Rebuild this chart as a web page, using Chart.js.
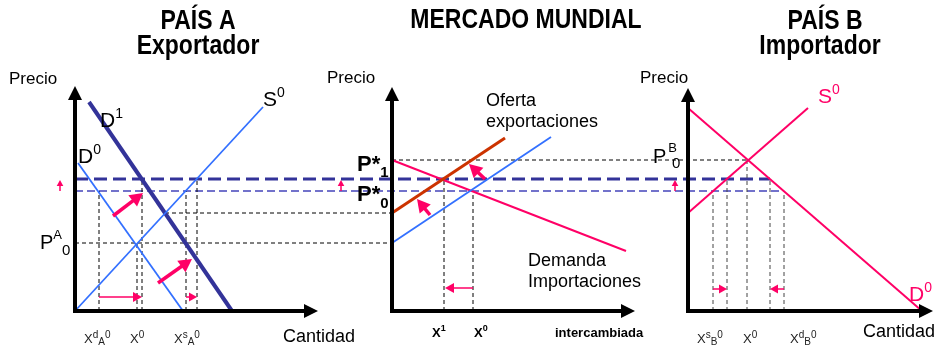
<!DOCTYPE html>
<html>
<head>
<meta charset="utf-8">
<script src="https://cdn.jsdelivr.net/npm/chart.js@4.4.0/dist/chart.umd.min.js"></script>
<style>
  html, body { margin: 0; padding: 0; background: #fff; }
  #wrap { width: 936px; height: 345px; position: relative; }
</style>
</head>
<body>
<div id="wrap"><canvas id="chart" width="936" height="345"></canvas></div>
<script>
// price levels, shared by the three panels
const P_A0 = 34;     // autarky price in A
const P_MID = 49;    // S0 / D1 crossing in A
const P_W0 = 60;     // world price before
const P_W1 = 66;     // world price after
const P_B0 = 75.5;   // autarky price in B

// País A (exportador)
const aSupply = [[0, 0], [94, 102]];
const aDemand0 = [[1.5, 74], [54, 0]];
const aDemand1 = [[7, 104.5], [78.5, 0]];
const aVertQ = [12, 31, 33.5, 55.5, 61];
const aVertP = [P_W0, P_A0, P_W1, P_W0, P_W1];

// Mercado mundial
const mSupply0 = [[0, P_A0], [79.5, 87]];
const mSupply1 = [[0, P_MID], [56.5, 86.5]];
const mDemand = [[0, P_B0], [117, 30]];
const mVertQ = [26, 40.5];
const mVertP = [P_W1, P_W0];

// País B (importador)
const bDemand = [[0, 101.5], [117, 0]];
const bSupply = [[0, P_MID], [60, 101.5]];
const bVertQ = [12.5, 19.5, 29.5, 41, 48];
const bVertP = [P_W0, P_W1, P_B0, P_W1, P_W0];

// layout of the three panels (px per unit, origin of each quantity axis)
const UNIT = 2;
const W = 936, H = 345;
const originX = { A: 75, M: 392, B: 688 };
const originY = 311;
const axisTop = { A: 112.5, M: 112, B: 111.5 };
const axisEnd = { A: 121.5, M: 121.5, B: 122.5 };

const BLUE = '#3370ff', NAVY = '#333399', PINK = '#ff0066', ORANGE = '#cc3300';
const FONT = '"Liberation Sans", Arial, sans-serif';

const toXY = pts => pts.map(p => ({ x: p[0], y: p[1] }));

function line(label, pts, axis, color, width) {
    return {
        label: label, data: toXY(pts), xAxisID: axis,
        showLine: true, borderColor: color, borderWidth: width,
        pointRadius: 0, fill: false, tension: 0
    };
}

// dashed guides: [panel, q, p] -> [panel, q, p]
const guides = [
    { from: ['A', 0, P_A0], to: ['M', 0, P_A0], kind: 'k' },
    { from: ['A', 45, P_MID], to: ['M', 0, P_MID], kind: 'k' },
    { from: ['M', 0, P_B0], to: ['B', 29.5, P_B0], kind: 'k' },
    { from: ['A', 0, P_W0], to: ['B', 48, P_W0], kind: 'w0' },
    { from: ['A', 0, P_W1], to: ['B', 41, P_W1], kind: 'w1' }
];
aVertQ.forEach((q, i) => guides.push({ from: ['A', q, 0], to: ['A', q, aVertP[i]], kind: 'k' }));
mVertQ.forEach((q, i) => guides.push({ from: ['M', q, 0], to: ['M', q, mVertP[i]], kind: 'k' }));
bVertQ.forEach((q, i) => guides.push({ from: ['B', q, 0], to: ['B', q, bVertP[i]], kind: 'g' }));

const guideStyle = {
    k: { color: '#000', width: 1, dash: [4, 3] },
    g: { color: '#444', width: 1, dash: [4, 3] },
    w0: { color: '#4444bb', width: 1.5, dash: [8, 4] },
    w1: { color: NAVY, width: 3, dash: [13, 6] }
};

// pink shift arrows
const arrows = [
    { panel: 'A', from: [19, 47.5], to: [34, 59], w: 3.5, head: 13 },
    { panel: 'A', from: [41.5, 14], to: [58.5, 26], w: 3.5, head: 13 },
    { panel: 'A', from: [12, 7], to: [33.5, 7], w: 1.5, head: 9 },
    { panel: 'A', from: [55.5, 7], to: [61, 7], w: 1.5, head: 8 },
    { panel: 'A', from: [-7.5, 60], to: [-7.5, 65.5], w: 1.5, head: 6 },
    { panel: 'M', from: [19, 48], to: [12.5, 56], w: 3.5, head: 13 },
    { panel: 'M', from: [46.5, 66], to: [38.5, 73.5], w: 3.5, head: 13 },
    { panel: 'M', from: [40.5, 11.5], to: [26.5, 11.5], w: 1.5, head: 9 },
    { panel: 'M', from: [-25.5, 60], to: [-25.5, 65.5], w: 1.5, head: 6 },
    { panel: 'B', from: [12.5, 11], to: [19.5, 11], w: 1.5, head: 8 },
    { panel: 'B', from: [48, 11], to: [41, 11], w: 1.5, head: 8 },
    { panel: 'B', from: [-6.5, 60], to: [-6.5, 65.5], w: 1.5, head: 6 }
];

// text labels; parts: [text, size, dy, bold, color, dx]
const xLab = (sup, sub) => [['X', 13, 0, false, '#222'], [sup, 10, -4, false, '#222'], [sub, 10, 3, false, '#222'], ['0', 10, -4, false, '#222']];
const labels = [
    { panel: 'A', q: 61.5, p: 144.5, align: 'center', sy: 1.18, parts: [['PAÍS A', 23, 0, true]] },
    { panel: 'A', q: 61.5, p: 132, align: 'center', sy: 1.18, parts: [['Exportador', 23, 0, true]] },
    { panel: 'M', q: 67, p: 145, align: 'center', sy: 1.18, parts: [['MERCADO MUNDIAL', 23, 0, true]] },
    { panel: 'B', q: 68.5, p: 144.5, align: 'center', sy: 1.18, parts: [['PAÍS B', 23, 0, true]] },
    { panel: 'B', q: 66, p: 132, align: 'center', sy: 1.18, parts: [['Importador', 23, 0, true]] },

    { panel: 'A', q: -33, p: 116, parts: [['Precio', 17]] },
    { panel: 'A', q: 94, p: 105.5, parts: [['S', 21], ['0', 14, -7]] },
    { panel: 'A', q: 12.5, p: 95, parts: [['D', 21], ['1', 14, -7]] },
    { panel: 'A', q: 1.5, p: 77, parts: [['D', 21], ['0', 14, -7]] },
    { panel: 'A', q: -17.5, p: P_A0, parts: [['P', 20], ['A', 13, -8], ['0', 15, 8]] },
    { panel: 'A', q: 4.5, p: -14, parts: xLab('d', 'A') },
    { panel: 'A', q: 27.5, p: -14, parts: [['X', 13, 0, false, '#222'], ['0', 10, -4, false, '#222']] },
    { panel: 'A', q: 49.5, p: -14, parts: xLab('s', 'A') },
    { panel: 'A', q: 104, p: -13, parts: [['Cantidad', 18]] },

    { panel: 'M', q: -32.5, p: 116.5, parts: [['Precio', 17]] },
    { panel: 'M', q: 47, p: 105, parts: [['Oferta', 18]] },
    { panel: 'M', q: 47, p: 94.5, parts: [['exportaciones', 18]] },
    { panel: 'M', q: 68, p: 25, parts: [['Demanda', 18]] },
    { panel: 'M', q: 68, p: 14.5, parts: [['Importaciones', 18]] },
    { panel: 'M', q: -17.5, p: 73, parts: [['P*', 22, 0, true], ['1', 15, 8, true]] },
    { panel: 'M', q: -17.5, p: 58, parts: [['P*', 22, 0, true], ['0', 15, 9, true]] },
    { panel: 'M', q: 20, p: -11, parts: [['X', 13, 0, true], ['1', 9, -4, true]] },
    { panel: 'M', q: 41, p: -11, parts: [['X', 13, 0, true], ['0', 9, -4, true]] },
    { panel: 'M', q: 81.5, p: -11, parts: [['intercambiada', 13, 0, true]] },

    { panel: 'B', q: -24, p: 116.5, parts: [['Precio', 17]] },
    { panel: 'B', q: 65, p: 107, parts: [['S', 21, 0, false, PINK], ['0', 14, -7, false, PINK]] },
    { panel: 'B', q: 110.5, p: 8, parts: [['D', 21, 0, false, PINK], ['0', 14, -7, false, PINK]] },
    { panel: 'B', q: -17.5, p: 77, parts: [['P', 20], ['B', 13, -9, false, '#000', 2], ['0', 15, 7, false, '#000', -5]] },
    { panel: 'B', q: 87.5, p: -10.5, parts: [['Cantidad', 18]] },
    { panel: 'B', q: 4.5, p: -14, parts: xLab('s', 'B') },
    { panel: 'B', q: 27.5, p: -14, parts: [['X', 13, 0, false, '#222'], ['0', 10, -4, false, '#222']] },
    { panel: 'B', q: 51, p: -14, parts: xLab('d', 'B') }
];

function px(chart, panel, q, p) {
    return [chart.scales['x' + panel].getPixelForValue(q), chart.scales.y.getPixelForValue(p)];
}

function arrowHead(ctx, x0, y0, x1, y1, len, half, color) {
    const a = Math.atan2(y1 - y0, x1 - x0);
    ctx.fillStyle = color;
    ctx.beginPath();
    ctx.moveTo(x1, y1);
    ctx.lineTo(x1 - len * Math.cos(a) + half * Math.sin(a), y1 - len * Math.sin(a) - half * Math.cos(a));
    ctx.lineTo(x1 - len * Math.cos(a) - half * Math.sin(a), y1 - len * Math.sin(a) + half * Math.cos(a));
    ctx.closePath();
    ctx.fill();
}

function drawArrow(ctx, x0, y0, x1, y1, width, len, half, color) {
    const a = Math.atan2(y1 - y0, x1 - x0);
    ctx.strokeStyle = color;
    ctx.lineWidth = width;
    ctx.setLineDash([]);
    ctx.beginPath();
    ctx.moveTo(x0, y0);
    ctx.lineTo(x1 - len * 0.7 * Math.cos(a), y1 - len * 0.7 * Math.sin(a));
    ctx.stroke();
    arrowHead(ctx, x0, y0, x1, y1, len, half, color);
}

const econPlugin = {
    id: 'econ',
    beforeDatasetsDraw(chart) {
        const ctx = chart.ctx;
        ctx.save();
        guides.forEach(g => {
            const st = guideStyle[g.kind];
            const a = px(chart, g.from[0], g.from[1], g.from[2]);
            const b = px(chart, g.to[0], g.to[1], g.to[2]);
            ctx.strokeStyle = st.color;
            ctx.lineWidth = st.width;
            ctx.setLineDash(st.dash);
            ctx.beginPath();
            ctx.moveTo(a[0], a[1]);
            ctx.lineTo(b[0], b[1]);
            ctx.stroke();
        });
        ctx.restore();
    },
    afterDatasetsDraw(chart) {
        const ctx = chart.ctx;
        ctx.save();
        // black axes with arrow heads
        ['A', 'M', 'B'].forEach(panel => {
            const o = px(chart, panel, 0, 0);
            const t = px(chart, panel, 0, axisTop[panel]);
            const e = px(chart, panel, axisEnd[panel], 0);
            ctx.strokeStyle = '#000';
            ctx.lineWidth = 4;
            ctx.setLineDash([]);
            ctx.beginPath();
            ctx.moveTo(t[0], t[1] + 10);
            ctx.lineTo(o[0], o[1]);
            ctx.lineTo(e[0] - 10, e[1]);
            ctx.stroke();
            arrowHead(ctx, o[0], o[1], t[0], t[1], 14, 7, '#000');
            arrowHead(ctx, o[0], o[1], e[0], e[1], 14, 7, '#000');
        });
        // pink arrows
        arrows.forEach(ar => {
            const a = px(chart, ar.panel, ar.from[0], ar.from[1]);
            const b = px(chart, ar.panel, ar.to[0], ar.to[1]);
            drawArrow(ctx, a[0], a[1], b[0], b[1], ar.w, ar.head, ar.head * 0.55, PINK);
        });
        // text
        ctx.textBaseline = 'middle';
        ctx.textAlign = 'left';
        labels.forEach(lb => {
            const pos = px(chart, lb.panel, lb.q, lb.p);
            const sy = lb.sy || 1;
            const fontOf = pt => (pt[3] ? 'bold ' : '') + pt[1] + 'px ' + FONT;
            let total = 0;
            lb.parts.forEach(pt => { ctx.font = fontOf(pt); total += ctx.measureText(pt[0]).width + (pt[5] || 0); });
            let x = lb.align === 'center' ? pos[0] - total / 2 : pos[0];
            lb.parts.forEach(pt => {
                ctx.font = fontOf(pt);
                ctx.fillStyle = pt[4] || '#000';
                x += (pt[5] || 0);
                ctx.save();
                ctx.translate(x, pos[1] + (pt[2] || 0));
                ctx.scale(1, sy);
                ctx.fillText(pt[0], 0, 0);
                ctx.restore();
                x += ctx.measureText(pt[0]).width;
            });
        });
        ctx.restore();
    }
};

const xScale = panel => ({
    type: 'linear', display: false,
    min: -originX[panel] / UNIT, max: (W - originX[panel]) / UNIT
});

const chart = new Chart(document.getElementById('chart'), {
    type: 'scatter',
    data: {
        datasets: [
            line('S0 A', aSupply, 'xA', BLUE, 1.8),
            line('D0 A', aDemand0, 'xA', BLUE, 1.8),
            line('D1 A', aDemand1, 'xA', NAVY, 4),
            line('Oferta exportaciones 0', mSupply0, 'xM', BLUE, 1.8),
            line('Oferta exportaciones 1', mSupply1, 'xM', ORANGE, 3),
            line('Demanda importaciones', mDemand, 'xM', PINK, 2),
            line('D0 B', bDemand, 'xB', PINK, 2),
            line('S0 B', bSupply, 'xB', PINK, 2)
        ]
    },
    options: {
        responsive: false,
        animation: false,
        layout: { padding: 0 },
        plugins: { legend: { display: false }, tooltip: { enabled: false }, title: { display: false } },
        scales: {
            xA: xScale('A'),
            xM: xScale('M'),
            xB: xScale('B'),
            y: { type: 'linear', display: false, min: -(H - originY) / UNIT, max: originY / UNIT }
        }
    },
    plugins: [econPlugin]
});
</script>
</body>
</html>
